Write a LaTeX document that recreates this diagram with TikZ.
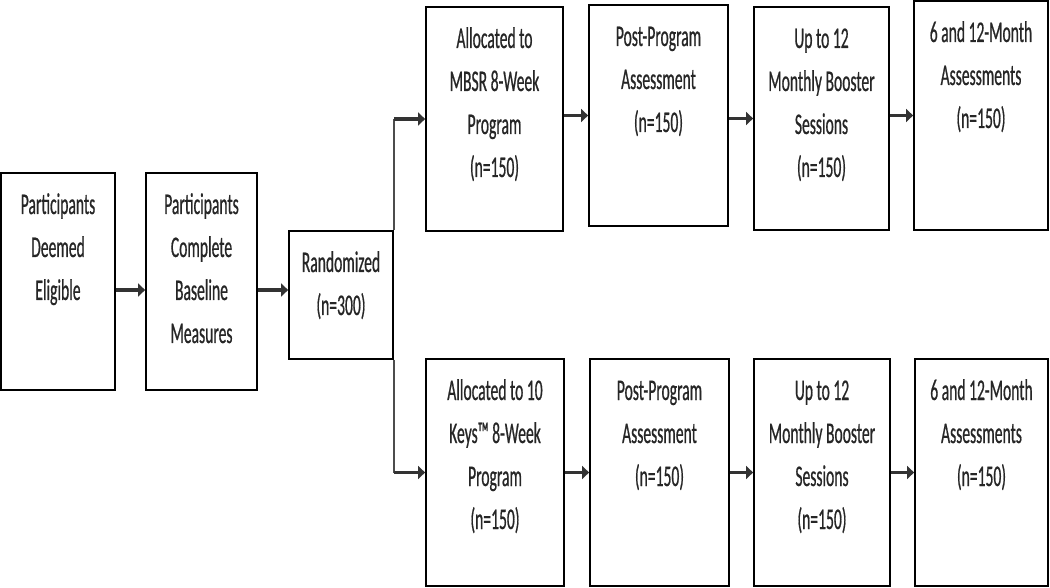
\documentclass[tikz,border=0pt]{standalone}
\usepackage{fontspec}
\setmainfont{Carlito}[FakeStretch=0.52,FakeBold=0.6]
\usetikzlibrary{arrows.meta}
\newcommand{\flowtext}[3]{\parbox[t][#1pt][t]{#2pt}{\centering\rule{0pt}{41pt}#3}}
\begin{document}
\begin{tikzpicture}[x=1pt,y=-1pt,
    box/.style={draw,line width=1.8pt,inner sep=0pt,text=black!85,font=\fontsize{30}{43}\selectfont},
    arr/.style={line width=3.2pt,draw=black!80,-{Triangle[length=7pt,width=13pt]}},
    branch/.style={line width=1.3pt,draw=black!70}]
    \useasboundingbox (0,0) rectangle (1050,588);
    % left part
    \node[box] (elig) at (58,281.5) {\flowtext{217}{114}{Participants\\Deemed\\Eligible}};
    \node[box] (base) at (201.5,281.5) {\flowtext{217}{111}{Participants\\Complete\\Baseline\\Measures}};
    \node[box] (rand) at (341,295) {\flowtext{128}{104}{Randomized\\(n=300)}};
    % MBSR arm
    \node[box] (mbsr) at (494.5,119) {\flowtext{224}{137}{Allocated to\\MBSR 8-Week\\Program\\(n=150)}};
    \node[box] (postA) at (658.5,115.5) {\flowtext{221}{139}{Post-Program\\Assessment\\(n=150)}};
    \node[box] (boostA) at (821.5,118.5) {\flowtext{223}{135}{Up to 12\\Monthly Booster\\Sessions\\(n=150)}};
    \node[box] (followA) at (981,115.5) {\flowtext{229}{134}{6 and 12-Month\\Assessments\\(n=150)}};
    % 10 Keys arm
    \node[box] (keys) at (495,472.5) {\flowtext{227}{138}{Allocated to 10\\Keys™ 8-Week\\Program\\(n=150)}};
    \node[box] (postB) at (659.5,472.5) {\flowtext{227}{139}{Post-Program\\Assessment\\(n=150)}};
    \node[box] (boostB) at (822,472.5) {\flowtext{227}{136}{Up to 12\\Monthly Booster\\Sessions\\(n=150)}};
    \node[box] (followB) at (981.5,472.5) {\flowtext{227}{133}{6 and 12-Month\\Assessments\\(n=150)}};
    \coordinate (up) at (rand.north east |- mbsr.west);
    \coordinate (down) at (rand.south east |- keys.west);
    \draw[arr] ([yshift=-8.5pt]elig.east) -- ([yshift=-8.5pt]base.west);
    \draw[arr] ([yshift=-8.5pt]base.east) -- ([yshift=-8.5pt]base.east -| rand.west);
    \draw[branch] (rand.north east) -- (up);
    \draw[branch] (rand.south east) -- (down);
    \draw[arr] (up) -- (mbsr.west);
    \draw[arr] (down) -- (keys.west);
    \draw[arr] (mbsr.east |- postA.west) -- (postA.west);
    \draw[arr] (postA.east |- boostA.west) -- (boostA.west);
    \draw[arr] (boostA.east |- followA.west) -- (followA.west);
    \draw[arr] (keys) -- (postB);
    \draw[arr] (postB) -- (boostB);
    \draw[arr] (boostB) -- (followB);
\end{tikzpicture}
\end{document}
